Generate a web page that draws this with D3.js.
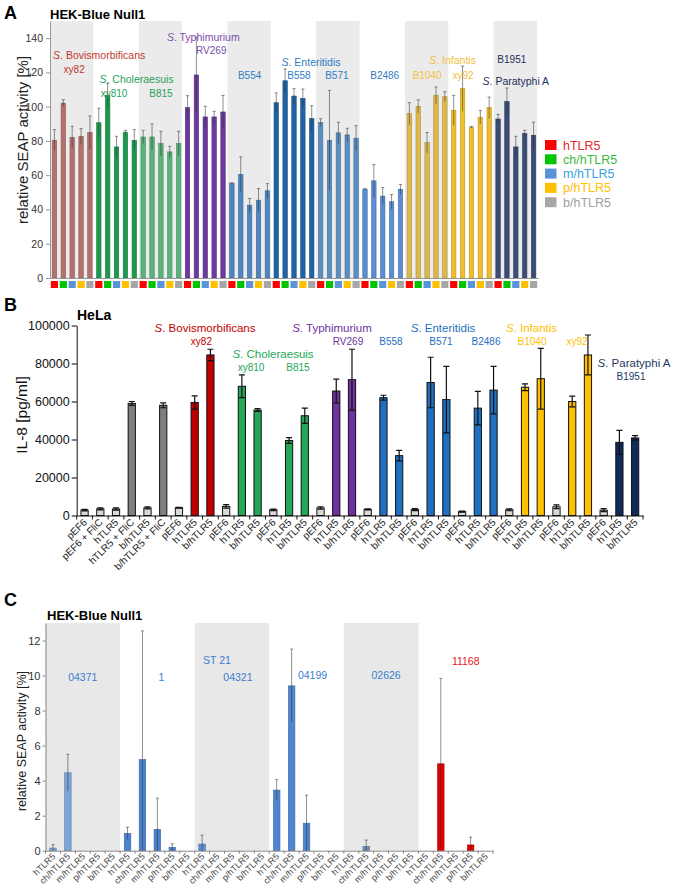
<!DOCTYPE html>
<html>
<head>
<meta charset="utf-8">
<script src="https://cdn.jsdelivr.net/npm/d3@7"></script>
<style>
body { margin: 0; background: #fff; }
svg { font-family: "Liberation Sans", Arial, sans-serif; display: block; }
</style>
</head>
<body>
<svg id="fig" width="675" height="889"></svg>
<script>
// ---- panel A data (HEK-Blue Null1, relative SEAP activity %) ----
const strainsA = ['xy82','xy810','B815','RV269','B554','B558','B571','B2486','B1040','xy92','B1951'];
const receptorsA = ['hTLR5','ch/hTLR5','m/hTLR5','p/hTLR5','b/hTLR5'];
const valuesA = [
  [80.4, 102.1, 82.1, 82.5, 84.9],
  [90.6, 106.6, 76.5, 84.9, 80.4],
  [82.3, 82.3, 78.4, 73.6, 78.4],
  [99.4, 118.5, 94.0, 94.0, 96.9],
  [55.1, 60.4, 42.5, 45.4, 50.9],
  [102.3, 115.1, 106.2, 104.7, 93.0],
  [90.7, 80.4, 84.7, 83.5, 81.6],
  [51.8, 56.7, 47.8, 44.5, 51.8],
  [95.9, 100.2, 79.0, 106.6, 105.8],
  [97.9, 110.5, 88.0, 93.8, 99.4],
  [92.8, 102.9, 76.5, 84.3, 83.3]
];
const errorsA = [
  [6.2, 2.0, 6.4, 4.7, 9.7],
  [8.5, 6.8, 6.2, 1.3, 6.2],
  [3.9, 7.6, 7.2, 3.3, 7.2],
  [7.0, 22.0, 6.2, 3.3, 9.7],
  [0.5, 10.3, 3.9, 6.8, 4.2],
  [5.7, 6.9, 4.3, 5.6, 7.6],
  [2.3, 29.1, 6.2, 3.9, 7.3],
  [0.5, 9.5, 5.0, 4.2, 2.8],
  [6.4, 3.8, 5.9, 4.9, 2.9],
  [8.7, 13.2, 0.4, 3.9, 6.2],
  [2.7, 8.0, 6.2, 1.9, 7.7]
];
const ticksA = [0, 20, 40, 60, 80, 100, 120, 140];

// ---- panel B data (HeLa, IL-8 pg/ml) ----
const strainsB = ['xy82','xy810','B815','RV269','B558','B571','B2486','B1040','xy92','B1951'];
const labelsB = ['pEF6','pEF6 + FliC','hTLR5','hTLR5 + FliC','b/hTLR5','b/hTLR5 + FliC',
  'pEF6','hTLR5','b/hTLR5', 'pEF6','hTLR5','b/hTLR5', 'pEF6','hTLR5','b/hTLR5',
  'pEF6','hTLR5','b/hTLR5', 'pEF6','hTLR5','b/hTLR5', 'pEF6','hTLR5','b/hTLR5',
  'pEF6','hTLR5','b/hTLR5', 'pEF6','hTLR5','b/hTLR5', 'pEF6','hTLR5','b/hTLR5',
  'pEF6','hTLR5','b/hTLR5'];
const valuesB = [2800, 3500, 3400, 59000, 4000, 58000,
  4100, 59500, 84500, 4800, 68000, 55500, 3000, 39500, 52500,
  4000, 65500, 71500, 3200, 62000, 31500, 3100, 70000, 61000,
  2000, 56500, 66000, 3000, 67500, 72000, 4600, 60000, 84500,
  2800, 38500, 40800];
const errorsB = [400, 500, 600, 1000, 500, 1300,
  200, 3500, 3000, 900, 6000, 700, 400, 1500, 4000,
  600, 6300, 16000, 300, 1300, 2800, 500, 13300, 17500,
  300, 8800, 12500, 500, 1800, 16000, 1000, 2800, 10500,
  800, 6300, 1200];
const ticksB = [0, 20000, 40000, 60000, 80000, 100000];

// ---- panel C data (HEK-Blue Null1, relative SEAP activity %) ----
const strainsC = ['04371','1','04321','04199','02626','11168'];
const valuesC = [
  [0.15, 4.45, 0, 0, 0],
  [0.99, 5.2, 1.22, 0.19, 0],
  [0.38, 0, 0, 0, 0],
  [3.46, 9.41, 1.57, 0, 0],
  [0, 0.25, 0, 0, 0],
  [0, 4.96, 0, 0.33, 0]
];
const errorsC = [
  [0.2, 1.05, 0, 0, 0],
  [0.35, 7.35, 1.78, 0.21, 0],
  [0.5, 0, 0, 0, 0],
  [0.6, 2.1, 1.6, 0, 0],
  [0, 0.36, 0, 0, 0],
  [0, 4.88, 0, 0.44, 0]
];
const ticksC = [0, 2, 4, 6, 8, 10, 12];

// colours
const colorsA = ['#b5716e','#1b9a4e','#58b47b','#6b3a9e','#4d86c0','#1e64a6','#5a8fc3','#5b8ed2','#dfb84b','#f0be2c','#3b4d76'];
const keyColors = ['#ff0000','#00c400','#5b93d8','#ffc000','#a6a6a6'];
const keyText = ['#e8262b','#3cba3c','#3aa2e0','#ffc000','#a0a0a0'];
const colorsB = ['#c00000','#22a856','#22a856','#7030a0','#1f70c1','#1f70c1','#1f70c1','#ffc000','#ffc000','#0f2a5c'];
const colorsC = ['#7ea3d6','#4a82d0','#5b8fd6','#4f86d0','#6f8db8','#e00000'];

var svg = d3.select('#fig');

function species(g, name, x, y, size, color) {
  var t = g.append('text').attr('x', x).attr('y', y).attr('text-anchor', 'middle')
    .attr('font-size', size).attr('fill', color);
  t.append('tspan').attr('font-style', 'italic').text('S');
  t.append('tspan').text('. ' + name);
}
function label(g, txt, x, y, size, color) {
  g.append('text').attr('x', x).attr('y', y).attr('text-anchor', 'middle')
    .attr('font-size', size).attr('fill', color).text(txt);
}

// ================= PANEL A =================
var gA = svg.append('g');
var nA = strainsA.length * receptorsA.length;
var xA = d3.scaleBand().domain(d3.range(nA)).range([50, 538]).paddingInner(0.5).paddingOuter(0.25);
var yA = d3.scaleLinear().domain([0, 150]).range([278, 21]);
var sA = xA.step(), bwA = xA.bandwidth();
var cxA = function(g) { return xA(g * 5) - sA * 0.25 + sA * 2.5; };

strainsA.forEach(function(s, g) {
  if (g % 2 == 0)
    gA.append('rect').attr('x', xA(g * 5) - sA * 0.25).attr('y', yA(150))
      .attr('width', sA * 5 - 1).attr('height', yA(0) - yA(150)).attr('fill', '#ebebeb');
});

var dataA = [];
strainsA.forEach(function(s, g) {
  receptorsA.forEach(function(r, k) {
    dataA.push({i: g * 5 + k, g: g, k: k, v: valuesA[g][k], e: errorsA[g][k]});
  });
});

gA.selectAll('.barA').data(dataA).join('rect').attr('class', 'barA')
  .attr('x', d => xA(d.i)).attr('y', d => yA(d.v))
  .attr('width', bwA).attr('height', d => yA(0) - yA(d.v))
  .attr('fill', d => colorsA[d.g])
  .attr('stroke', d => d3.color(colorsA[d.g]).darker(0.7)).attr('stroke-width', 0.6);

gA.selectAll('.errA').data(dataA).join('line').attr('class', 'errA')
  .attr('x1', d => xA(d.i) + bwA / 2).attr('x2', d => xA(d.i) + bwA / 2)
  .attr('y1', d => yA(d.v - d.e)).attr('y2', d => yA(d.v + d.e))
  .attr('stroke', '#333').attr('stroke-opacity', 0.55).attr('stroke-width', 1);
gA.selectAll('.capA').data(dataA).join('line').attr('class', 'capA')
  .attr('x1', d => xA(d.i) + bwA / 2 - 1.6).attr('x2', d => xA(d.i) + bwA / 2 + 1.6)
  .attr('y1', d => yA(d.v + d.e)).attr('y2', d => yA(d.v + d.e))
  .attr('stroke', '#333').attr('stroke-opacity', 0.55).attr('stroke-width', 1);

// receptor key squares under each bar
gA.selectAll('.keyA').data(dataA).join('rect').attr('class', 'keyA')
  .attr('x', d => xA(d.i) + bwA / 2 - 3.6).attr('y', 281)
  .attr('width', 7.2).attr('height', 7).attr('fill', d => keyColors[d.k]);

gA.append('g').attr('transform', 'translate(0,' + yA(0) + ')')
  .call(d3.axisBottom(xA).tickSize(0).tickFormat(''))
  .call(a => a.select('.domain').attr('stroke', '#999'));
gA.append('g').attr('transform', 'translate(50,0)')
  .call(d3.axisLeft(yA).tickValues(ticksA).tickSize(4).tickSizeOuter(0).tickPadding(3))
  .call(a => a.select('.domain').attr('stroke', '#999'))
  .call(a => a.selectAll('.tick line').attr('stroke', '#999'))
  .call(a => a.selectAll('.tick text').attr('font-size', 10.5).attr('fill', '#333')
    .attr('font-family', '"Liberation Sans", Arial, sans-serif'));

gA.append('text').attr('transform', 'translate(28,140) rotate(-90)').attr('text-anchor', 'middle')
  .attr('font-size', 15).attr('fill', '#222').text('relative SEAP activity  [%]');
gA.append('text').attr('x', 4).attr('y', 19).attr('font-size', 18).attr('font-weight', 'bold').text('A');
gA.append('text').attr('x', 50).attr('y', 19).attr('font-size', 13).attr('font-weight', 'bold').text('HEK-Blue Null1');

// strain annotations A
species(gA, 'Bovismorbificans', cxA(0) + 27, 59, 10.5, '#c0392f');
label(gA, 'xy82', cxA(0) + 2, 72.5, 10, '#c0392f');
species(gA, 'Choleraesuis', cxA(1) + 20, 83, 10.5, '#2aa05a');
label(gA, 'xy810', cxA(1) - 2.5, 97, 10, '#2aa05a');
label(gA, 'B815', cxA(2), 97, 10, '#2aa05a');
species(gA, 'Typhimurium', cxA(3) - 2, 40.5, 10.5, '#7a4aa8');
label(gA, 'RV269', cxA(3) + 6, 54, 10, '#7a4aa8');
label(gA, 'B554', cxA(4), 79, 10, '#2f7cc3');
species(gA, 'Enteritidis', cxA(5) + 17, 66, 10.5, '#2f7cc3');
label(gA, 'B558', cxA(5) + 5, 79, 10, '#2f7cc3');
label(gA, 'B571', cxA(6) - 1.5, 79, 10, '#2f7cc3');
label(gA, 'B2486', cxA(7) + 2, 79, 10, '#2f7cc3');
species(gA, 'Infantis', cxA(8) + 25.5, 63.5, 10.5, '#f2c03c');
label(gA, 'B1040', cxA(8), 79, 10, '#f2c03c');
label(gA, 'xy92', cxA(9) - 8.5, 79, 10, '#f2c03c');
label(gA, 'B1951', cxA(10) - 4, 63, 10, '#1f2d5a');
species(gA, 'Paratyphi A', cxA(10), 85, 10.5, '#1f2d5a');

// legend A
receptorsA.forEach(function(r, k) {
  var ly = 140 + k * 14.3;
  gA.append('rect').attr('x', 545).attr('y', ly).attr('width', 11.5).attr('height', 10).attr('fill', keyColors[k]);
  gA.append('text').attr('x', 563).attr('y', ly + 9.5).attr('font-size', 12.5).attr('fill', keyText[k]).text(r);
});

// ================= PANEL B =================
var gB = svg.append('g');
var xB = d3.scaleBand().domain(d3.range(labelsB.length)).range([76.7, 643]).paddingInner(0.54).paddingOuter(0.27);
var yB = d3.scaleLinear().domain([0, 100000]).range([515.5, 325.5]);
var sB = xB.step(), bwB = xB.bandwidth();

function colorB(i) {
  if (i < 6) return labelsB[i].indexOf('FliC') >= 0 && labelsB[i].indexOf('pEF6') < 0 ? '#7f7f7f' : '#d9d9d9';
  if (labelsB[i] == 'pEF6') return '#d9d9d9';
  return colorsB[Math.floor((i - 6) / 3)];
}
var dataB = valuesB.map((v, i) => ({i: i, v: v, e: errorsB[i]}));

gB.selectAll('.barB').data(dataB).join('rect').attr('class', 'barB')
  .attr('x', d => xB(d.i)).attr('y', d => yB(d.v))
  .attr('width', bwB).attr('height', d => yB(0) - yB(d.v))
  .attr('fill', d => colorB(d.i)).attr('stroke', '#111').attr('stroke-width', 1);
gB.selectAll('.errB').data(dataB).join('path').attr('class', 'errB')
  .attr('d', function(d) {
    var cx = xB(d.i) + bwB / 2, y1 = yB(d.v - d.e), y2 = yB(d.v + d.e);
    return 'M' + cx + ',' + y1 + 'V' + y2 + 'M' + (cx - 3) + ',' + y2 + 'H' + (cx + 3) +
      'M' + (cx - 3) + ',' + y1 + 'H' + (cx + 3);
  })
  .attr('fill', 'none').attr('stroke', '#111').attr('stroke-width', 1.2);

gB.append('g').attr('transform', 'translate(0,' + yB(0) + ')')
  .call(d3.axisBottom(xB).tickSize(0).tickFormat(''))
  .call(a => a.select('.domain').attr('stroke', '#111'));
gB.selectAll('.tickB').data(d3.range(labelsB.length + 1)).join('line').attr('class', 'tickB')
  .attr('x1', k => xB.range()[0] + k * sB).attr('x2', k => xB.range()[0] + k * sB)
  .attr('y1', yB(0)).attr('y2', yB(0) + 4).attr('stroke', '#111');
gB.append('g').attr('transform', 'translate(76.7,0)')
  .call(d3.axisLeft(yB).tickValues(ticksB).tickFormat(d3.format('d')).tickSize(5).tickSizeOuter(0).tickPadding(2))
  .call(a => a.select('.domain').attr('stroke', '#111'))
  .call(a => a.selectAll('.tick text').attr('font-size', 12.5).attr('fill', '#111')
    .attr('font-family', '"Liberation Sans", Arial, sans-serif'));

gB.selectAll('.xlabB').data(labelsB).join('text').attr('class', 'xlabB')
  .attr('transform', (t, i) => 'translate(' + (xB(i) + bwB / 2 + 3) + ',523) rotate(-45)')
  .attr('text-anchor', 'end').attr('font-size', 10).attr('fill', '#222').text(t => t);

gB.append('text').attr('transform', 'translate(27,415) rotate(-90)').attr('text-anchor', 'middle')
  .attr('font-size', 15.5).attr('fill', '#111').text('IL-8 [pg/ml]');
gB.append('text').attr('x', 4).attr('y', 311).attr('font-size', 18).attr('font-weight', 'bold').text('B');
gB.append('text').attr('x', 77).attr('y', 320).attr('font-size', 14).attr('font-weight', 'bold').text('HeLa');

var cxB = function(i) { return xB(i) + bwB / 2; };
species(gB, 'Bovismorbificans', 205, 332, 11.5, '#c00000');
label(gB, 'xy82', cxB(8) - 9, 345, 10, '#c00000');
species(gB, 'Choleraesuis', 273, 357.5, 11.5, '#22a856');
label(gB, 'xy810', 251, 371, 10, '#22a856');
label(gB, 'B815', 298, 371, 10, '#22a856');
species(gB, 'Typhimurium', 332, 332, 11.5, '#7030a0');
label(gB, 'RV269', 348, 345, 10, '#7030a0');
label(gB, 'B558', 391, 345, 10, '#1f70c1');
species(gB, 'Enteritidis', 443, 332, 11.5, '#1f70c1');
label(gB, 'B571', 441, 345, 10, '#1f70c1');
label(gB, 'B2486', 486, 345, 10, '#1f70c1');
species(gB, 'Infantis', 531.5, 332, 11.5, '#ffc000');
label(gB, 'B1040', 532, 345, 10, '#ffc000');
label(gB, 'xy92', 577, 345, 10, '#ffc000');
species(gB, 'Paratyphi A', 634, 366.5, 11.5, '#1f3864');
label(gB, 'B1951', 631, 380, 10, '#1f3864');

// ================= PANEL C =================
var gC = svg.append('g');
var nC = strainsC.length * receptorsA.length;
var xC = d3.scaleBand().domain(d3.range(nC)).range([45.5, 493]).paddingInner(0.56).paddingOuter(0.28);
var yC = d3.scaleLinear().domain([0, 13]).range([850.7, 623]);
var sC = xC.step(), bwC = xC.bandwidth();
var x0C = xC.range()[0];

strainsC.forEach(function(s, g) {
  if (g % 2 == 0)
    gC.append('rect').attr('x', x0C + g * 5 * sC).attr('y', yC(13))
      .attr('width', sC * 5).attr('height', yC(0) - yC(13)).attr('fill', '#e8e8e8');
});

var dataC = [];
strainsC.forEach(function(s, g) {
  receptorsA.forEach(function(r, k) {
    dataC.push({i: g * 5 + k, g: g, k: k, v: valuesC[g][k], e: errorsC[g][k]});
  });
});

gC.selectAll('.barC').data(dataC.filter(d => d.v > 0)).join('rect').attr('class', 'barC')
  .attr('x', d => xC(d.i)).attr('y', d => yC(d.v))
  .attr('width', bwC).attr('height', d => yC(0) - yC(d.v))
  .attr('fill', d => colorsC[d.g])
  .attr('stroke', d => d3.color(colorsC[d.g]).darker(0.7)).attr('stroke-width', 0.6);
gC.selectAll('.errC').data(dataC.filter(d => d.e > 0)).join('path').attr('class', 'errC')
  .attr('d', function(d) {
    var cx = xC(d.i) + bwC / 2, y1 = yC(Math.max(0, d.v - d.e)), y2 = yC(d.v + d.e);
    return 'M' + cx + ',' + y1 + 'V' + y2 + 'M' + (cx - 1.5) + ',' + y2 + 'H' + (cx + 1.5);
  })
  .attr('fill', 'none').attr('stroke', '#333').attr('stroke-opacity', 0.55).attr('stroke-width', 1);

gC.append('g').attr('transform', 'translate(0,' + yC(0) + ')')
  .call(d3.axisBottom(xC).tickSize(0).tickFormat(''))
  .call(a => a.select('.domain').attr('stroke', '#888'));
gC.selectAll('.tickC').data(d3.range(nC + 1)).join('line').attr('class', 'tickC')
  .attr('x1', k => x0C + k * sC).attr('x2', k => x0C + k * sC)
  .attr('y1', yC(0)).attr('y2', yC(0) + 3).attr('stroke', '#888');
gC.append('g').attr('transform', 'translate(' + x0C + ',0)')
  .call(d3.axisLeft(yC).tickValues(ticksC).tickSize(3).tickSizeOuter(0).tickPadding(2))
  .call(a => a.select('.domain').attr('stroke', '#888'))
  .call(a => a.selectAll('.tick line').attr('stroke', '#888'))
  .call(a => a.selectAll('.tick text').attr('font-size', 11).attr('fill', '#333')
    .attr('font-family', '"Liberation Sans", Arial, sans-serif'));

gC.selectAll('.xlabC').data(dataC).join('text').attr('class', 'xlabC')
  .attr('transform', d => 'translate(' + (xC(d.i) + bwC / 2 + 3) + ',857) rotate(-45)')
  .attr('text-anchor', 'end').attr('font-size', 9).attr('fill', '#444').text(d => receptorsA[d.k]);

gC.append('text').attr('transform', 'translate(26,741) rotate(-90)').attr('text-anchor', 'middle')
  .attr('font-size', 12.5).attr('fill', '#222').text('relative SEAP activity [%]');
gC.append('text').attr('x', 4).attr('y', 606).attr('font-size', 18).attr('font-weight', 'bold').text('C');
gC.append('text').attr('x', 47).attr('y', 620).attr('font-size', 13).attr('font-weight', 'bold').text('HEK-Blue Null1');

var cxC = function(g) { return x0C + g * 5 * sC + sC * 2.5; };
label(gC, '04371', cxC(0) + 0, 681, 10.5, '#3a7dd0');
label(gC, '1', cxC(1) + 4, 681, 10.5, '#3a7dd0');
label(gC, 'ST 21', cxC(2) - 15, 664, 10.5, '#3a7dd0');
label(gC, '04321', cxC(2) + 6, 681, 10.5, '#3a7dd0');
label(gC, '04199', cxC(3) + 6, 679, 10.5, '#3a7dd0');
label(gC, '02626', cxC(4) + 5, 679, 10.5, '#3a7dd0');
label(gC, '11168', cxC(5) + 10, 665, 10.5, '#e02020');
</script>
</body>
</html>
